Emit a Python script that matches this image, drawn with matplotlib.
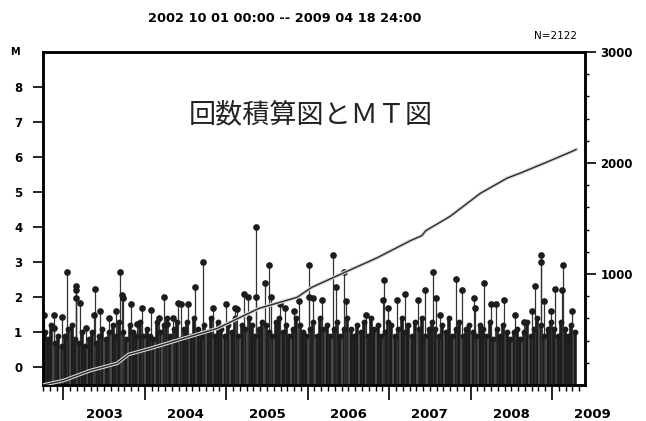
import numpy as np
import matplotlib
matplotlib.use("Agg")
import matplotlib.pyplot as plt
import matplotlib.patheffects as pe

# 目立つ地震 (年(小数), マグニチュード)
ev_t = [2002.76, 2002.88, 2002.89, 2002.98, 2003.045, 2003.15, 2003.15, 2003.16, 2003.21, 2003.28,
        2003.37, 2003.39, 2003.45, 2003.56, 2003.64, 2003.70, 2003.72, 2003.73, 2003.83, 2003.90,
        2003.96, 2004.07, 2004.17, 2004.23, 2004.27, 2004.35, 2004.41, 2004.44, 2004.53, 2004.61,
        2004.71, 2004.84, 2005.00, 2005.11, 2005.13, 2005.22, 2005.27, 2005.36, 2005.36, 2005.47,
        2005.53, 2005.55, 2005.66, 2005.72, 2005.83, 2005.89, 2006.02, 2006.02, 2006.06, 2006.17,
        2006.31, 2006.35, 2006.45, 2006.47, 2006.71, 2006.94, 2006.93, 2006.99, 2007.10, 2007.20,
        2007.36, 2007.44, 2007.54, 2007.58, 2007.62, 2007.82, 2007.90, 2008.04, 2008.05, 2008.17,
        2008.25, 2008.31, 2008.41, 2008.55, 2008.66, 2008.76, 2008.79, 2008.87, 2008.87, 2008.90,
        2008.99, 2009.04, 2009.12, 2009.14, 2009.24]
ev_m = [1.49, 1.51, 1.14, 1.43, 2.72, 2.32, 2.20, 1.97, 1.83, 1.14,
        1.51, 2.23, 1.61, 1.42, 1.61, 2.72, 2.08, 1.98, 1.80, 1.23,
        1.71, 1.63, 1.42, 2.01, 1.23, 1.42, 1.83, 1.82, 1.82, 2.30,
        3.01, 1.70, 1.82, 1.70, 1.66, 2.11, 2.02, 4.01, 2.02, 2.42,
        2.91, 2.00, 1.80, 1.70, 1.61, 1.89, 2.91, 2.00, 1.99, 1.92,
        3.21, 2.30, 2.72, 1.90, 1.49, 2.49, 1.92, 1.70, 1.92, 2.11,
        1.92, 2.20, 2.72, 1.99, 1.50, 2.51, 2.21, 1.99, 1.70, 2.42,
        1.80, 1.80, 1.92, 1.49, 1.30, 1.61, 2.32, 3.21, 3.00, 1.90,
        1.60, 2.23, 2.20, 2.91, 1.61]

# 小さい地震の密集部分 (半月ごとの上端の目安)
bg_m = [1.0, 0.8, 1.2, 0.7, 0.9, 0.6,
        0.9, 1.1, 1.2, 0.8, 0.7, 1.0, 0.6, 0.8, 1.0, 0.7, 0.9, 1.1,
        0.8, 1.0, 1.2, 0.9, 1.3, 1.0, 0.8, 1.2, 1.0, 0.9, 1.3, 0.9,
        1.1, 0.9, 0.8, 1.3, 1.0, 1.2, 1.4, 0.9, 1.1, 1.3, 0.8, 1.1,
        1.3, 0.9, 1.4, 1.1, 0.9, 1.2, 1.0, 1.4, 0.9, 1.3, 1.1, 0.9,
        1.2, 1.0, 1.4, 0.9, 1.2, 1.1, 1.4, 1.2, 0.9, 1.1, 1.3, 1.2,
        1.0, 0.9, 1.3, 1.4, 1.0, 1.2, 0.9, 1.1, 1.4, 1.2, 1.0, 0.9,
        1.1, 1.3, 0.9, 1.4, 1.1, 1.2, 0.9, 1.1, 1.3, 0.9, 1.1, 1.4,
        1.1, 0.9, 1.2, 1.0, 1.3, 0.9, 1.4, 1.1, 1.2, 0.9, 1.0, 1.3,
        1.2, 0.9, 1.1, 1.4, 1.0, 1.2, 0.9, 1.3, 1.1, 1.4, 0.9, 1.1,
        1.3, 1.1, 0.9, 1.2, 1.0, 1.4, 0.9, 1.1, 1.3, 0.9, 1.1, 1.2,
        1.0, 0.9, 1.2, 1.1, 0.9, 1.3, 0.8, 1.1, 0.9, 1.2, 1.0, 0.8,
        1.0, 1.1, 0.8, 1.0, 1.3, 0.9, 1.1, 1.4, 1.2, 0.9, 1.1, 1.3,
        1.1, 0.9, 1.3, 1.1, 0.9, 1.2, 1.0]
bg_t = np.linspace(2002.77, 2009.28, len(bg_m))

# 回数積算 (年, 累積回数)
cum_t = [2002.75, 2003.00, 2003.33, 2003.66, 2003.80, 2004.07, 2004.43, 2004.89, 2005.40,
         2005.87, 2006.05, 2006.44, 2006.85, 2007.26, 2007.40, 2007.45, 2007.75, 2008.12,
         2008.45, 2008.61, 2008.94, 2009.26, 2009.295]
cum_n = [0, 40, 130, 195, 275, 330, 410, 510, 690,
         790, 880, 1010, 1145, 1300, 1345, 1390, 1520, 1727,
         1864, 1909, 2009, 2109, 2122]

years = [2003, 2004, 2005, 2006, 2007, 2008, 2009]

fig = plt.figure(figsize=(6.46, 4.21), dpi=100)
ax = fig.add_axes([0.0666, 0.0855, 0.839, 0.791])
ink = "#1b1d1b"

# 密集部分
ax.vlines(bg_t, -0.5, bg_m, color=ink, lw=2.6, zorder=2)
ax.plot(bg_t, bg_m, "o", color=ink, ms=3.2, zorder=3)
# 個々の地震
ax.vlines(ev_t, -0.5, ev_m, color="#333333", lw=0.9, zorder=2)
ax.plot(ev_t, ev_m, "o", color=ink, ms=3.8, zorder=3)

ax.set_xlim(2002.75, 2009.405)
ax.set_ylim(-0.5, 9)
ax.set_yticks(range(0, 9))
ax.set_yticklabels([str(i) for i in range(0, 9)], fontsize=8.5, fontweight="bold")
ax.set_xticks(years)
ax.set_xticklabels([])
ax.set_xticks(np.arange(2002.75, 2009.4, 1 / 12), minor=True)
ax.tick_params(axis="x", which="major", length=11, width=1.2, direction="out")
ax.tick_params(axis="x", which="minor", length=4, width=1.0, direction="out")
ax.tick_params(axis="y", length=7, width=1.2, direction="out", pad=8)
for s in ax.spines.values():
    s.set_linewidth(1.8)

# 年ラベルは各年の中央に
for y in years:
    ax.text(y + 0.5, -1.15, str(y), ha="center", va="top",
            fontsize=9.5, fontweight="bold", clip_on=False)

# 右軸: 累積回数
ax2 = ax.twinx()
ax2.set_ylim(0, 3000)
ax2.set_yticks([1000, 2000, 3000])
ax2.set_yticklabels(["1000", "2000", "3000"], fontsize=8.5, fontweight="bold")
ax2.set_yticks(np.arange(200, 3000, 200), minor=True)
ax2.tick_params(axis="y", which="major", length=8, width=1.2, pad=3)
ax2.tick_params(axis="y", which="minor", length=3, width=1.0)
for s in ax2.spines.values():
    s.set_linewidth(1.8)
ax2.plot(cum_t, cum_n, color="#2a2a2a", lw=1.0, zorder=5,
         path_effects=[pe.Stroke(linewidth=2.6, foreground="#d8d8d8"), pe.Normal()])

fig.text(0.023, 0.876, "M", fontsize=7, fontweight="bold", ha="center", va="center")
fig.text(0.44, 0.957, "2002 10 01 00:00 -- 2009 04 18 24:00", fontsize=9.3,
         fontweight="bold", ha="center", va="center")
fig.text(0.86, 0.915, "N=2122", fontsize=7.5, ha="center", va="center")
ax.text(0.494, 0.81, "回数積算図とＭＴ図", transform=ax.transAxes, fontsize=19.5,
        ha="center", va="center", family=["Noto Sans CJK JP", "DejaVu Sans"], color="#222222")

fig.savefig("out.png", dpi=100)
